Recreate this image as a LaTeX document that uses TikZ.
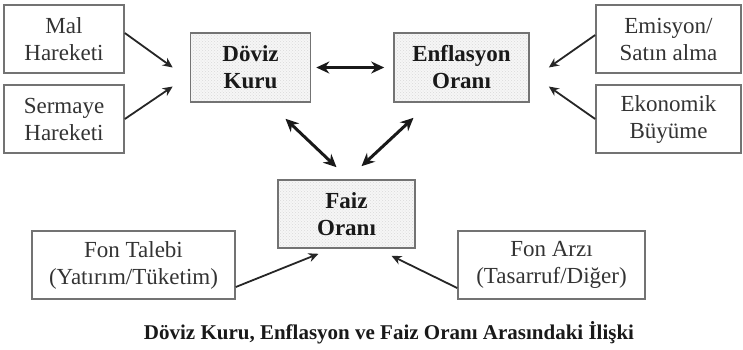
\documentclass[tikz,border=0pt]{standalone}
\usepackage{fontspec}
\setmainfont{Liberation Serif}
\usetikzlibrary{patterns,arrows.meta}

\begin{document}
\begin{tikzpicture}[>={Stealth[length=10pt,width=9pt]},x=1pt,y=-1pt,
    box/.style={draw=black!55,line width=1.6pt,inner sep=0pt,text=black!80,align=center,
        font=\fontsize{23}{27}\selectfont},
    keybox/.style={box,preaction={fill=gray!7},pattern=crosshatch dots,pattern color=gray!30,
        text=black!90,font=\fontsize{23}{27}\selectfont\bfseries},
    arr/.style={->,line width=1.8pt,black!85},
    dbl/.style={{Stealth[length=13pt,width=12pt]}-{Stealth[length=13pt,width=12pt]},line width=3pt,black!90}]
    \useasboundingbox (0,0) rectangle (743,349);
    % sol taraf
    \node[box,minimum width=120pt,minimum height=68pt] (mal) at (64,39) {Mal\\Hareketi};
    \node[box,minimum width=120pt,minimum height=68pt] (sermaye) at (64,119) {Sermaye\\Hareketi};
    % ana kutular
    \node[keybox,minimum width=120pt,minimum height=69pt] (doviz) at (250.5,67.5) {Döviz\\Kuru};
    \node[keybox,minimum width=135pt,minimum height=69pt] (enflasyon) at (461.5,67.5) {Enflasyon\\Oranı};
    \node[keybox,minimum width=137pt,minimum height=68pt] (faiz) at (346.5,214) {Faiz\\Oranı};
    % sag taraf
    \node[box,minimum width=145pt,minimum height=68pt] (emisyon) at (668.5,39) {Emisyon/\\Satın alma};
    \node[box,minimum width=145pt,minimum height=68pt] (buyume) at (668.5,119) {Ekonomik\\Büyüme};
    % alt
    \node[box,minimum width=203pt,minimum height=68pt] (talep) at (133.5,265) {Fon Talebi\\(Yatırım/Tüketim)};
    \node[box,minimum width=187pt,minimum height=68pt] (arz) at (551.5,265) {Fon Arzı\\(Tasarruf/Diğer)};
    \node[text=black!90,font=\fontsize{21}{24}\selectfont\bfseries] (baslik) at (389,333)
        {Döviz Kuru, Enflasyon ve Faiz Oranı Arasındaki İlişki};
    % oklar
    \draw[arr] ([yshift=6pt]mal.east) -- ([xshift=-17pt]doviz.west);
    \draw[arr] (sermaye.east) -- ([shift={(-17pt,-19pt)}]doviz.west);
    \draw[arr] ([yshift=4pt]emisyon.west) -- ([xshift=19pt]enflasyon.east);
    \draw[arr] (buyume.west) -- ([shift={(19pt,-19pt)}]enflasyon.east);
    \draw[arr] ([yshift=-22pt]talep.east) -- ([shift={(-28pt,-5pt)}]faiz.south);
    \draw[arr] ([yshift=-23pt]arz.west) -- ([shift={(45pt,-7pt)}]faiz.south);
    \draw[dbl] ([xshift=5pt]doviz.east) -- ([xshift=-9pt]enflasyon.west);
    \draw[dbl] ([shift={(35pt,-16pt)}]doviz.south) -- ([shift={(-10pt,12pt)}]faiz.north);
    \draw[dbl] ([shift={(-48pt,-15pt)}]enflasyon.south) -- ([shift={(15pt,13pt)}]faiz.north);
\end{tikzpicture}
\end{document}
